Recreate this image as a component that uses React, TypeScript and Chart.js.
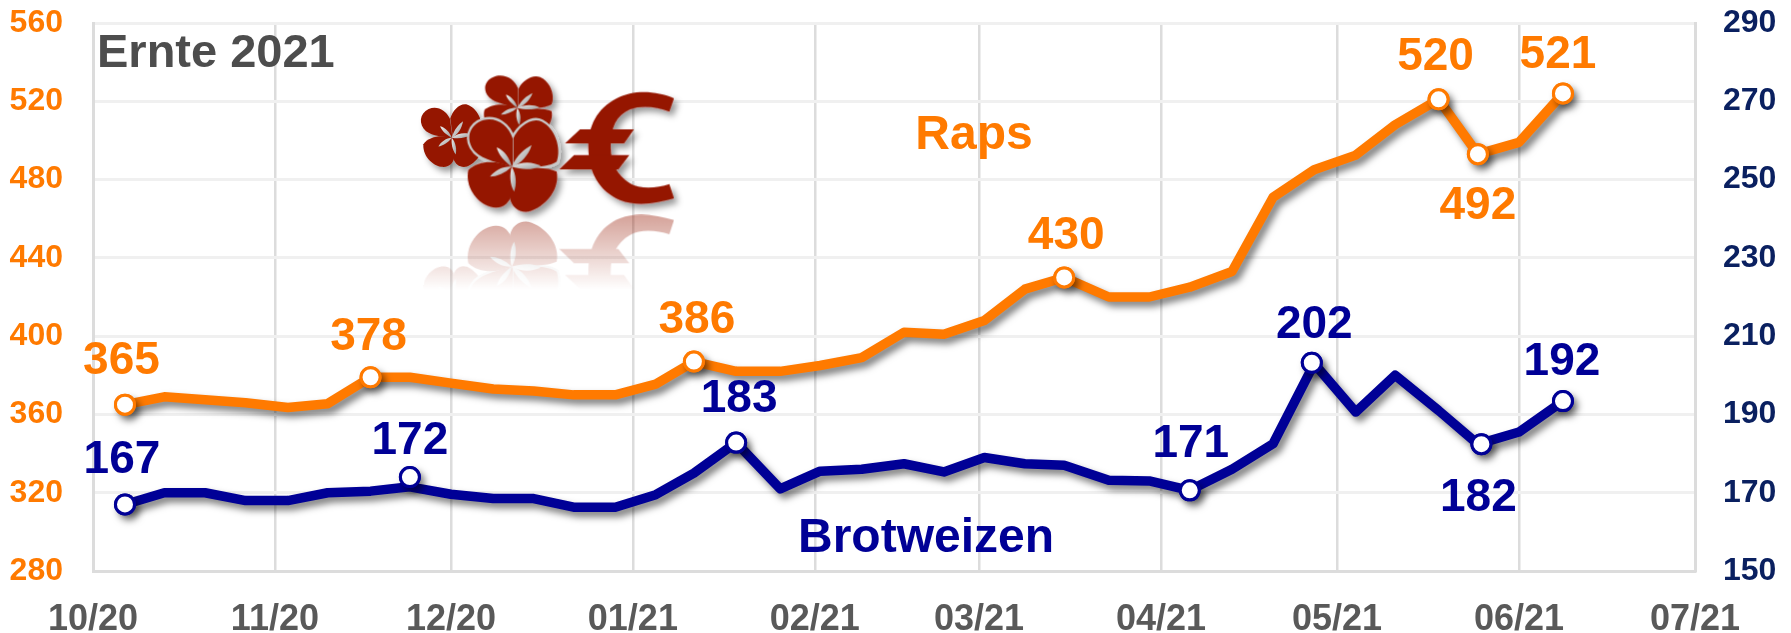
import React, { useEffect, useRef } from "react";
import { Chart, registerables } from "chart.js";

Chart.register(...registerables);

const monthDays = [0, 31, 61, 92, 123, 151, 182, 212, 243, 273];
const monthLabels = ["10/20", "11/20", "12/20", "01/21", "02/21", "03/21", "04/21", "05/21", "06/21", "07/21"];

const weekDays = [5.45, 12.15, 19.1, 26, 33.2, 40, 47.3, 54, 61, 68.2, 75.1, 81.9, 89, 95.9, 102.4, 109.6, 117.1, 123.9, 131, 138.2, 145, 151.9, 158.8, 165.5, 173.1, 180, 186.9, 194.1, 201.1, 208.1, 215.2, 221.9, 229.3, 236, 243, 250.5];

const raps = [365, 369, 367.5, 366, 363.5, 365.5, 379, 379, 376, 373, 372, 370, 370, 375.5, 387, 382, 382, 385, 389, 402, 401, 408, 424, 430, 420, 420, 425, 433, 471, 485, 492.5, 508, 521, 493, 499, 524];
const brotweizen = [167, 170, 170, 168, 168, 170, 170.4, 171.5, 169.6, 168.5, 168.5, 166.3, 166.3, 169.5, 175, 182.8, 171, 175.5, 176, 177.4, 175.3, 179, 177.4, 177, 173.2, 173, 170.6, 176, 182.5, 203, 190.6, 200, 191, 182.4, 185.5, 193.4];

const rapsMarkDays = [5.45, 47.3, 102.4, 165.5, 229.3, 236, 250.5];
const rapsMarkValues = [365, 379, 387, 430, 521, 493, 524];
const rapsMarkTexts = ["365", "378", "386", "430", "520", "492", "521"];
const rapsLabelDx = [-3.5, -2, 3, 2, -3, 0, -5];
const rapsLabelDy = [-45, -42, -43, -43, -44, 50, -40];

const weizenMarkDays = [5.45, 54, 109.6, 186.9, 207.7, 236.6, 250.5];
const weizenMarkValues = [167, 174, 182.8, 170.6, 203.2, 182.4, 193.4];
const weizenMarkTexts = ["167", "172", "183", "171", "202", "182", "192"];
const weizenLabelDx = [-3, 0, 3, 1, 2.5, -3, -1];
const weizenLabelDy = [-46, -38, -45, -48, -39, 52, -41];

const ORANGE = "#FF7A00";
const NAVY = "#000096";
const LABEL_FONT = 'bold 46px "Liberation Sans", Arial, sans-serif';
const NAME_FONT = 'bold 48px "Liberation Sans", Arial, sans-serif';
const TITLE_FONT = 'bold 47px "Liberation Sans", Arial, sans-serif';
const PLOT_TOP = 23;

const plotTopPlugin = {
  id: "plotTop",
  afterLayout(chart: any) {
    [chart.scales.yL, chart.scales.yR].forEach((s: any) => {
      s.top = PLOT_TOP;
      s.height = s.bottom - PLOT_TOP;
      s.configure();
    });
    chart.chartArea.top = PLOT_TOP;
    chart.chartArea.height = chart.chartArea.bottom - PLOT_TOP;
  },
};

const shadowPlugin = {
  id: "lineShadow",
  beforeDatasetDraw(chart: any, args: any) {
    const c = chart.ctx;
    c.save();
    if (chart.data.datasets[args.index].castShadow) {
      c.shadowColor = "rgba(0,0,0,0.5)";
      c.shadowBlur = 7;
      c.shadowOffsetX = 4;
      c.shadowOffsetY = 5;
    }
  },
  afterDatasetDraw(chart: any) {
    chart.ctx.restore();
  },
};

const labelPlugin = {
  id: "valueLabels",
  afterDatasetsDraw(chart: any) {
    const c = chart.ctx;
    const xs = chart.scales.x;
    const drawSet = (days: number[], vals: number[], texts: string[], dx: number[], dy: number[], axis: any, color: string) => {
      c.fillStyle = color;
      texts.forEach((t, i) => {
        c.fillText(t, xs.getPixelForValue(days[i]) + dx[i], axis.getPixelForValue(vals[i]) + dy[i] + 2);
      });
    };
    c.save();
    c.font = LABEL_FONT;
    c.textAlign = "center";
    c.textBaseline = "middle";
    drawSet(rapsMarkDays, rapsMarkValues, rapsMarkTexts, rapsLabelDx, rapsLabelDy, chart.scales.yL, ORANGE);
    drawSet(weizenMarkDays, weizenMarkValues, weizenMarkTexts, weizenLabelDx, weizenLabelDy, chart.scales.yR, NAVY);
    c.font = NAME_FONT;
    c.fillStyle = ORANGE;
    c.fillText("Raps", 974, 136);
    c.fillStyle = NAVY;
    c.fillText("Brotweizen", 926, 539);
    c.font = TITLE_FONT;
    c.textAlign = "left";
    c.fillStyle = "#4D4D4D";
    c.fillText("Ernte 2021", 97, 54);
    c.restore();
  },
};

const pts = (xs: number[], ys: number[]) => xs.map((x, i) => ({ x, y: ys[i] }));

const RED = "#951700";

const bigPetals = [
  "M338,320 C300,310 250,300 225,275 C195,240 205,195 250,180 C290,170 325,195 338,235 Z",
  "M340,320 L340,235 C355,200 395,170 425,185 C465,205 485,265 470,305 C440,325 390,320 340,320 Z",
  "M335,320 C290,300 235,300 205,330 C195,375 225,425 270,440 C305,450 330,430 335,400 Z",
  "M335,320 C390,325 440,320 470,335 C480,385 440,440 385,455 C355,458 335,440 330,415 Z",
];
const leaves = [
  "M335,320 C350,285 375,265 395,255 C385,285 365,310 335,320 Z",
  "M335,320 C315,305 295,285 290,262 C312,270 330,295 335,320 Z",
  "M335,320 C365,303 400,305 422,318 C400,330 365,330 335,320 Z",
  "M335,320 C350,345 350,375 342,395 C330,375 328,345 335,320 Z",
  "M335,320 C315,340 290,350 270,350 C285,330 310,318 335,320 Z",
];
const euroPaths = [
  "M822,115 C770,92 700,88 650,115 C590,145 565,200 565,260 C565,340 600,395 660,420 C710,440 770,430 822,415 L808,372 C770,385 720,388 690,370 C650,345 632,310 632,260 C632,200 650,165 690,148 C725,135 770,140 808,155 Z",
  "M495,250 L540,208 L702,208 L672,250 Z",
  "M478,328 L522,285 L688,285 L655,328 Z",
];

function Flower({ transform }: { transform?: string }) {
  return (
    <g transform={transform}>
      {bigPetals.map((d, i) => (
        <path key={i} d={d} fill={RED} />
      ))}
      {leaves.map((d, i) => (
        <path key={i} d={d} fill="url(#leafGrad)" />
      ))}
    </g>
  );
}

function Euro() {
  return (
    <g>
      {euroPaths.map((d, i) => (
        <path key={i} d={d} fill={RED} />
      ))}
    </g>
  );
}

function Flowers() {
  return (
    <g>
      <Flower transform="translate(155,230) scale(.67,.68) rotate(-8) translate(-335,-315)" />
      <Flower transform="translate(352,140) scale(.76,.68) translate(-335,-315)" />
      <path d={bigPetals[0]} fill="none" stroke="#c9c9c9" strokeWidth={14} />
      <path d={bigPetals[1]} fill="none" stroke="#c9c9c9" strokeWidth={14} />
      <Flower />
    </g>
  );
}

function Logo() {
  return (
    <svg
      viewBox="0 0 900 720"
      style={{ position: "absolute", left: 400, top: 60, width: 300, height: 240, pointerEvents: "none" }}
    >
      <defs>
        <linearGradient id="leafGrad" x1="0" y1="0" x2="1" y2="1">
          <stop offset="0" stopColor="#f0f0f0" />
          <stop offset="1" stopColor="#9a9a9a" />
        </linearGradient>
        <linearGradient id="fade" gradientUnits="userSpaceOnUse" x1="0" y1="465" x2="0" y2="690">
          <stop offset="0" stopColor="#fff" stopOpacity="0.4" />
          <stop offset="1" stopColor="#fff" stopOpacity="0" />
        </linearGradient>
        <mask id="fadeMask" maskUnits="userSpaceOnUse" x="0" y="440" width="900" height="280">
          <rect x="0" y="440" width="900" height="280" fill="url(#fade)" />
        </mask>
        <filter id="logoShadow" x="-10%" y="-10%" width="125%" height="125%">
          <feDropShadow dx="12" dy="14" stdDeviation="9" floodColor="#000" floodOpacity="0.4" />
        </filter>
      </defs>
      <g mask="url(#fadeMask)">
        <g transform="matrix(1 0 0 -1 0 940)">
          <Flowers />
        </g>
        <g transform="matrix(1 0 0 -1 0 895)">
          <Euro />
        </g>
      </g>
      <g filter="url(#logoShadow)">
        <Flowers />
        <Euro />
      </g>
    </svg>
  );
}

export default function App() {
  const ref = useRef<HTMLCanvasElement | null>(null);

  useEffect(() => {
    document.body.style.margin = "0";
    const canvas = ref.current;
    if (!canvas) return;
    const lineOpts = { castShadow: true, borderWidth: 9.5, borderJoinStyle: "round" as const, borderCapStyle: "round" as const, pointRadius: 0, tension: 0, clip: false as const };
    const haloOpts = { castShadow: true, showLine: false, pointRadius: 11, pointBorderWidth: 0, clip: false as const };
    const markOpts = { showLine: false, pointRadius: 9.5, pointBorderWidth: 3, pointBackgroundColor: "#fff", clip: false as const };
    const chart = new Chart(canvas, {
      type: "line",
      data: {
        datasets: [
          { label: "Raps Marken", data: pts(rapsMarkDays, rapsMarkValues), yAxisID: "yL", pointBorderColor: ORANGE, borderColor: ORANGE, ...markOpts },
          { label: "Brotweizen Marken", data: pts(weizenMarkDays, weizenMarkValues), yAxisID: "yR", pointBorderColor: NAVY, borderColor: NAVY, ...markOpts },
          { label: "Raps Schatten", data: pts(rapsMarkDays, rapsMarkValues), yAxisID: "yL", pointBackgroundColor: ORANGE, ...haloOpts },
          { label: "Brotweizen Schatten", data: pts(weizenMarkDays, weizenMarkValues), yAxisID: "yR", pointBackgroundColor: NAVY, ...haloOpts },
          { label: "Raps", data: pts(weekDays, raps), yAxisID: "yL", borderColor: ORANGE, ...lineOpts },
          { label: "Brotweizen", data: pts(weekDays, brotweizen), yAxisID: "yR", borderColor: NAVY, ...lineOpts },
        ],
      },
      options: {
        responsive: false,
        animation: false,
        parsing: false,
        normalized: true,
        plugins: { legend: { display: false }, title: { display: false }, tooltip: { enabled: false } },
        scales: {
          x: {
            type: "linear",
            min: 0,
            max: 273,
            afterBuildTicks(s: any) {
              s.ticks = monthDays.map((value) => ({ value }));
            },
            afterFit(s: any) {
              s.height = 62;
            },
            grid: { color: "#DCDCDC", lineWidth: 2.5, drawTicks: false },
            border: { display: true, color: "#DCDCDC", width: 3 },
            ticks: {
              autoSkip: false,
              maxRotation: 0,
              minRotation: 0,
              padding: 27,
              color: "#595959",
              font: { family: '"Liberation Sans"', weight: "bold", size: 36 },
              callback: (v: any) => monthLabels[monthDays.indexOf(Number(v))] ?? "",
            },
          },
          yL: {
            type: "linear",
            position: "left",
            min: 280,
            max: 560,
            afterFit(s: any) {
              s.width = 93;
            },
            grid: { color: "#F0F0F0", lineWidth: 3, drawTicks: false },
            border: { display: true, color: "#DCDCDC", width: 3 },
            ticks: {
              stepSize: 40,
              padding: 30,
              color: ORANGE,
              font: { family: '"Liberation Sans"', weight: "bold", size: 32 },
            },
          },
          yR: {
            type: "linear",
            position: "right",
            min: 150,
            max: 290,
            afterFit(s: any) {
              s.width = 96;
            },
            grid: { display: false, drawTicks: false },
            border: { display: true, color: "#DCDCDC", width: 3 },
            ticks: {
              stepSize: 20,
              padding: 28,
              color: "#0A2060",
              font: { family: '"Liberation Sans"', weight: "bold", size: 32 },
            },
          },
        },
      } as any,
      plugins: [plotTopPlugin, shadowPlugin, labelPlugin],
    });
    return () => chart.destroy();
  }, []);

  return (
    <div style={{ position: "relative", width: 1791, height: 633, background: "#fff" }}>
      <canvas ref={ref} width={1791} height={633} style={{ display: "block" }} />
      <Logo />
    </div>
  );
}
